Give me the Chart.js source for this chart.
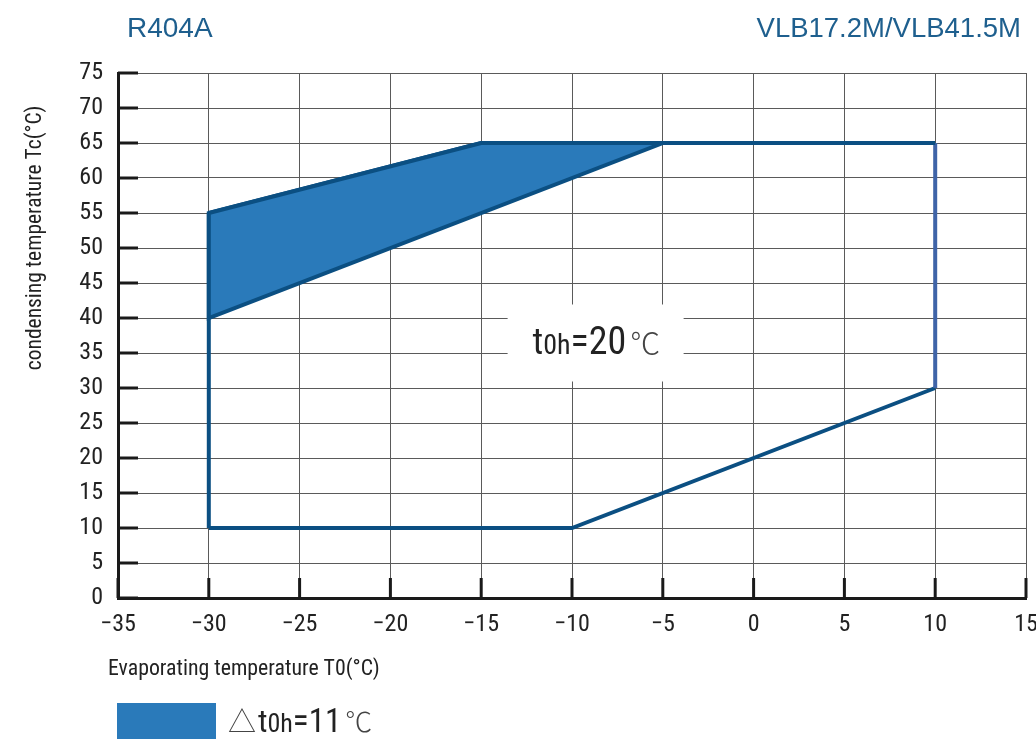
<!DOCTYPE html>
<html>
<head>
<meta charset="utf-8">
<script src="https://cdn.jsdelivr.net/npm/chart.js@4.4.1/dist/chart.umd.min.js"></script>
<style>
html,body{margin:0;padding:0;background:#fff;}
#wrap{width:1036px;height:739px;position:relative;}
</style>
</head>
<body>
<div id="wrap"><canvas id="c" width="1036" height="739"></canvas></div>
<script>
// ---- data ----
const refrigerant = "R404A";
const modelName = "VLB17.2M/VLB41.5M";
const xTicks = [-35,-30,-25,-20,-15,-10,-5,0,5,10,15];
const yTicks = [0,5,10,15,20,25,30,35,40,45,50,55,60,65,70,75];
const envelopeX = [-30,-10,10,10,-15,-30,-30];
const envelopeY = [10,10,30,65,65,55,10];
const superheatZoneX = [-30,-15,-5,-30,-30];
const superheatZoneY = [55,65,65,40,55];
const envelopeLabel = "t0h=20℃";
const zoneLabel = "△t0h=11℃";
const labelPos = {x:-8.7, y:36.5};

const lineColor = '#0b4f82';
const sideColor = '#3f64a8';
const fillColor = '#2a7aba';
const titleColor = '#1e5f8e';
const narrow = '"Roboto Condensed",Roboto,sans-serif';
const thin = '300 {s}px "Noto Sans CJK SC",sans-serif';

const toPts = (xs,ys)=>xs.map((x,i)=>({x:x,y:ys[i]}));

function fitText(ctx,text,family,size,target){
  ctx.font=size+'px '+family;
  const w=ctx.measureText(text).width;
  return Math.max(10,size*target/w);
}
function drawRuns(ctx,runs,x,base){
  runs.forEach(r=>{ctx.font=r[1];ctx.fillStyle=r[2]||'#222';ctx.fillText(r[0],x,base);x+=ctx.measureText(r[0]).width+(r[3]||0);});
}

const overlay = {
  id:'overlay',
  beforeDatasetsDraw(chart){
    const ctx=chart.ctx, xs=chart.scales.x, ys=chart.scales.y;
    const cx=xs.getPixelForValue(labelPos.x), cy=ys.getPixelForValue(labelPos.y);
    ctx.save();
    ctx.fillStyle='#fff';
    ctx.fillRect(cx-88, cy-38, 176, 77);
    ctx.restore();
  },
  afterDatasetsDraw(chart){
    const ctx=chart.ctx, xs=chart.scales.x, ys=chart.scales.y, a=chart.chartArea;
    ctx.save();
    ctx.strokeStyle='#1a1a1a'; ctx.lineWidth=3;
    yTicks.forEach(v=>{const p=ys.getPixelForValue(v);ctx.beginPath();ctx.moveTo(a.left,p);ctx.lineTo(a.left+20,p);ctx.stroke();});
    xTicks.forEach(v=>{const p=xs.getPixelForValue(v);ctx.beginPath();ctx.moveTo(p,a.bottom);ctx.lineTo(p,a.bottom-20);ctx.stroke();});
    const cx=xs.getPixelForValue(labelPos.x), cy=ys.getPixelForValue(labelPos.y);
    ctx.textBaseline='alphabetic'; ctx.textAlign='left';
    drawRuns(ctx,[
      ['t','36px '+narrow],
      ['0h','28px '+narrow],
      ['=20','38px '+narrow,null,4],
      ['℃',thin.replace('{s}','30'),'#444']
    ], cx-63, cy+11);
    ctx.restore();
  },
  afterDraw(chart){
    const ctx=chart.ctx;
    ctx.save();
    ctx.fillStyle=titleColor; ctx.textBaseline='alphabetic';
    ctx.font='28px "Liberation Sans",Arial,sans-serif';
    ctx.textAlign='left'; ctx.fillText(refrigerant,127,37);
    ctx.font='27.5px "Liberation Sans",Arial,sans-serif';
    ctx.textAlign='right'; ctx.fillText(modelName,1021,37);
    // y title
    ctx.fillStyle='#222';
    const yt='condensing temperature Tc(°C)';
    const ysz=fitText(ctx,yt,narrow,20,265);
    ctx.translate(41,238); ctx.rotate(-Math.PI/2);
    ctx.textAlign='center'; ctx.font=ysz.toFixed(1)+'px '+narrow;
    ctx.fillText(yt,0,0);
    ctx.setTransform(1,0,0,1,0,0);
    // x title
    const xt='Evaporating temperature T0(°C)';
    const xsz=fitText(ctx,xt,narrow,20,272);
    ctx.textAlign='left'; ctx.font=xsz.toFixed(1)+'px '+narrow;
    ctx.fillText(xt,108,675);
    // legend
    const ds=chart.data.datasets[0];
    ctx.fillStyle=ds.backgroundColor; ctx.fillRect(117,703,99,40);
    drawRuns(ctx,[
      ['△',thin.replace('{s}','28'),'#444',2],
      ['t','32px '+narrow],
      ['0h','26px '+narrow],
      ['=11','33px '+narrow,null,4],
      ['℃',thin.replace('{s}','27'),'#444']
    ], 228, 732);
    ctx.restore();
  }
};

new Chart(document.getElementById('c'),{
  type:'scatter',
  data:{datasets:[
    {label:zoneLabel,data:toPts(superheatZoneX,superheatZoneY),showLine:true,fill:'shape',
     backgroundColor:fillColor,borderColor:lineColor,borderWidth:4,pointRadius:0,tension:0,borderJoinStyle:'miter'},
    {label:envelopeLabel,data:toPts(envelopeX,envelopeY),showLine:true,fill:false,
     borderColor:lineColor,borderWidth:4,pointRadius:0,tension:0,
     segment:{borderColor:c=>(c.p0.parsed.x===10&&c.p1.parsed.x===10)?sideColor:lineColor}}
  ]},
  options:{
    responsive:false,animation:false,
    layout:{padding:{top:73,right:10,left:0,bottom:0}},
    plugins:{legend:{display:false},tooltip:{enabled:false}},
    scales:{
      x:{type:'linear',min:-35,max:15,
         afterBuildTicks:s=>{s.ticks=xTicks.map(v=>({value:v}));},
         afterFit:s=>{s.height=141;s.paddingLeft=0;s.paddingRight=0;},
         grid:{color:'#5a5a5a',lineWidth:1,drawTicks:false},
         border:{color:'#1a1a1a',width:3},
         ticks:{padding:13,color:'#222',font:{family:narrow,size:24},
                callback:v=>String(v).replace('-','−')}},
      y:{type:'linear',min:0,max:75,
         afterBuildTicks:s=>{s.ticks=yTicks.map(v=>({value:v}));},
         afterFit:s=>{s.width=118;s.paddingTop=0;s.paddingBottom=0;},
         grid:{color:'#5a5a5a',lineWidth:1,drawTicks:false},
         border:{color:'#1a1a1a',width:3},
         ticks:{padding:15,color:'#222',font:{family:narrow,size:24}}}
    }
  },
  plugins:[overlay]
});
</script>
</body>
</html>
